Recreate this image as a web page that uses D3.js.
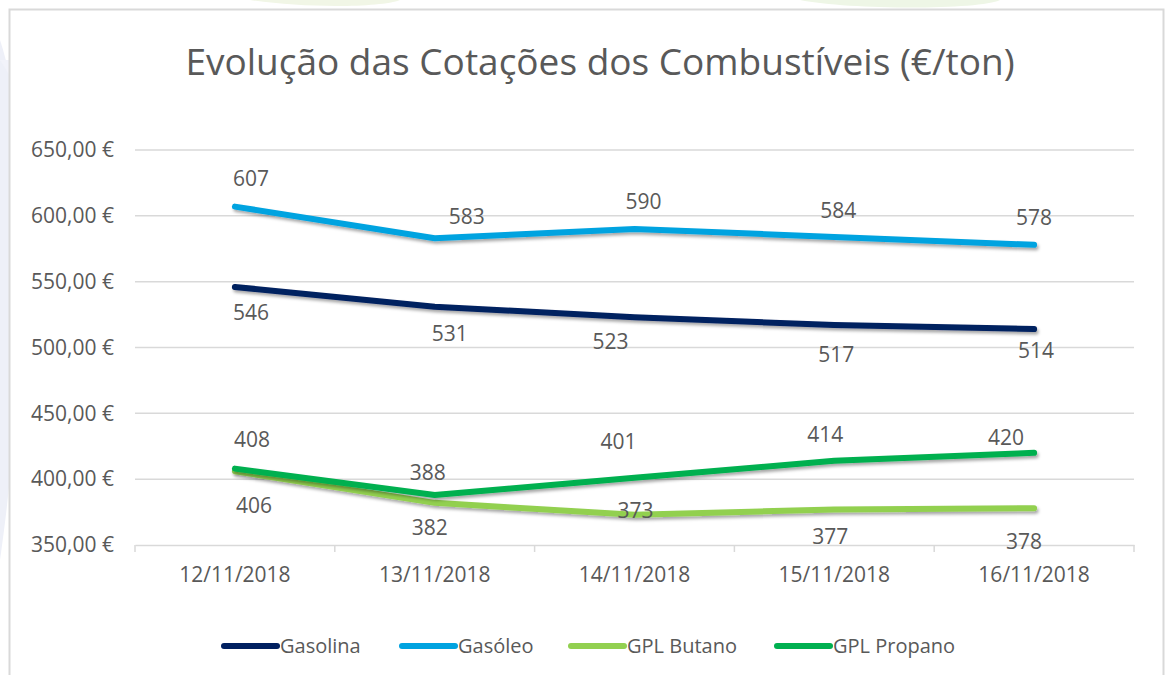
<!DOCTYPE html>
<html lang="pt">
<head>
<meta charset="utf-8">
<script src="https://d3js.org/d3.v7.min.js"></script>
<style>
  html, body { margin: 0; padding: 0; background: #fff; }
  svg { display: block; font-family: "Open Sans", "Noto Sans", sans-serif; }
</style>
</head>
<body>
<div id="chart"></div>
<script>
// data
var dates = ["12/11/2018", "13/11/2018", "14/11/2018", "15/11/2018", "16/11/2018"];
var gasolina = [546, 531, 523, 517, 514];
var gasoleo = [607, 583, 590, 584, 578];
var butano = [406, 382, 373, 377, 378];
var propano = [408, 388, 401, 414, 420];
var yTicks = [350, 400, 450, 500, 550, 600, 650];

// hand nudges of the data labels (dx, dy from the point)
var nudgeGasolina = [[16, 26], [15, 27], [-24, 24], [2, 29], [2, 21]];
var nudgeGasoleo = [[16, -28], [32, -22], [9, -28], [4, -26], [0, -27]];
var nudgeButano = [[19, 34], [-5, 25], [1, -4], [-4, 27], [-10, 33]];
var nudgePropano = [[17, -29], [-7, -23], [-16, -36], [-9, -26], [-28, -15]];

var series = [
  {name: "Gasolina", values: gasolina, color: "#002060", nudge: nudgeGasolina},
  {name: "Gasóleo", values: gasoleo, color: "#00A3E0", nudge: nudgeGasoleo},
  {name: "GPL Butano", values: butano, color: "#92D050", nudge: nudgeButano},
  {name: "GPL Propano", values: propano, color: "#00B050", nudge: nudgePropano}
];

var width = 1167, height = 675;
var plotLeft = 135, plotRight = 1134, plotTop = 150, plotBottom = 545;
var textColor = "#595959";

var svg = d3.select("#chart").append("svg")
    .attr("width", width)
    .attr("height", height);

var defs = svg.append("defs");
var f = defs.append("filter").attr("id", "shadow")
    .attr("x", "-5%").attr("y", "-20%").attr("width", "110%").attr("height", "160%");
f.append("feDropShadow")
    .attr("dx", 1.5).attr("dy", 2.5).attr("stdDeviation", 1.8)
    .attr("flood-color", "#000").attr("flood-opacity", 0.35);

// faint background watermark
var bg = svg.append("g");
bg.append("path").attr("d", "M0,40 C40,160 20,420 0,560 L0,675 L0,0 Z").attr("fill", "#eef0f8");
bg.append("path").attr("d", "M0,60 C90,200 70,380 10,520 L10,60 Z").attr("fill", "#f2f3fa");
bg.append("path").attr("d", "M250,0 C300,8 380,8 400,0 Z").attr("fill", "#f1f6e6");
bg.append("path").attr("d", "M800,0 C850,10 980,10 1000,0 Z").attr("fill", "#eef6e6");

// chart box
svg.append("rect")
    .attr("x", 9.5).attr("y", 9.5)
    .attr("width", 1154).attr("height", 700)
    .attr("fill", "#fff")
    .attr("stroke", "#d9d9d9")
    .attr("stroke-width", 2);

var xScale = d3.scaleBand().domain(dates).range([plotLeft, plotRight]);
var yScale = d3.scaleLinear().domain([350, 650]).range([plotBottom, plotTop]);
function cx(i) { return xScale(dates[i]) + xScale.bandwidth() / 2; }

// title
svg.append("text")
    .attr("x", 600).attr("y", 75)
    .attr("text-anchor", "middle")
    .attr("fill", textColor)
    .style("font-size", "37px")
    .text("Evolução das Cotações dos Combustíveis (€/ton)");

// gridlines
svg.append("g").selectAll("line")
    .data(yTicks.filter(function(d) { return d > 350; }))
    .enter().append("line")
    .attr("x1", plotLeft).attr("x2", plotRight)
    .attr("y1", function(d) { return yScale(d); })
    .attr("y2", function(d) { return yScale(d); })
    .attr("stroke", "#d9d9d9")
    .attr("stroke-width", 1.5);

// y axis labels
var fmt = function(d) { return d3.format(".2f")(d).replace(".", ",") + " €"; };
var yAxis = svg.append("g")
    .attr("transform", "translate(" + plotLeft + ",0)")
    .call(d3.axisLeft(yScale).tickValues(yTicks).tickSize(0).tickPadding(21).tickFormat(fmt));
yAxis.select(".domain").remove();
yAxis.selectAll("text")
    .attr("fill", textColor)
    .style("font-size", "21px")
    .style("font-family", "\"Open Sans\", sans-serif");

// x axis
var xAxis = svg.append("g")
    .attr("transform", "translate(0," + plotBottom + ")")
    .call(d3.axisBottom(xScale).tickSize(0).tickPadding(22));
xAxis.select(".domain").attr("stroke", "#d9d9d9").attr("stroke-width", 1.5);
xAxis.selectAll("text")
    .attr("fill", textColor)
    .style("font-size", "21px")
    .style("font-family", "\"Open Sans\", sans-serif");
svg.append("g").selectAll("line")
    .data(d3.range(dates.length + 1))
    .enter().append("line")
    .attr("x1", function(i) { return plotLeft + i * xScale.bandwidth(); })
    .attr("x2", function(i) { return plotLeft + i * xScale.bandwidth(); })
    .attr("y1", plotBottom).attr("y2", plotBottom + 7)
    .attr("stroke", "#d9d9d9")
    .attr("stroke-width", 1.5);

// lines
var line = d3.line()
    .x(function(d, i) { return cx(i); })
    .y(function(d) { return yScale(d); });

svg.append("g").selectAll("path")
    .data(series)
    .enter().append("path")
    .attr("d", function(s) { return line(s.values); })
    .attr("fill", "none")
    .attr("stroke", function(s) { return s.color; })
    .attr("stroke-width", 6)
    .attr("stroke-linecap", "round")
    .attr("stroke-linejoin", "round")
    .attr("filter", "url(#shadow)");

// data labels
series.forEach(function(s) {
  svg.append("g").selectAll("text")
      .data(s.values)
      .enter().append("text")
      .attr("x", function(d, i) { return cx(i) + s.nudge[i][0]; })
      .attr("y", function(d, i) { return yScale(d) + s.nudge[i][1]; })
      .attr("dy", "0.36em")
      .attr("text-anchor", "middle")
      .attr("fill", textColor)
      .style("font-size", "21px")
      .text(function(d) { return d; });
});

// legend
var legendX = [222, 400, 569, 775];
var lg = svg.append("g").selectAll("g")
    .data(series)
    .enter().append("g")
    .attr("transform", function(s, i) { return "translate(" + legendX[i] + ",646)"; });
lg.append("line")
    .attr("x1", 2).attr("x2", 55)
    .attr("stroke", function(s) { return s.color; })
    .attr("stroke-width", 6)
    .attr("stroke-linecap", "round");
lg.append("text")
    .attr("x", 58).attr("dy", "0.36em")
    .attr("fill", textColor)
    .style("font-size", "20px")
    .text(function(s) { return s.name; });
</script>
</body>
</html>
